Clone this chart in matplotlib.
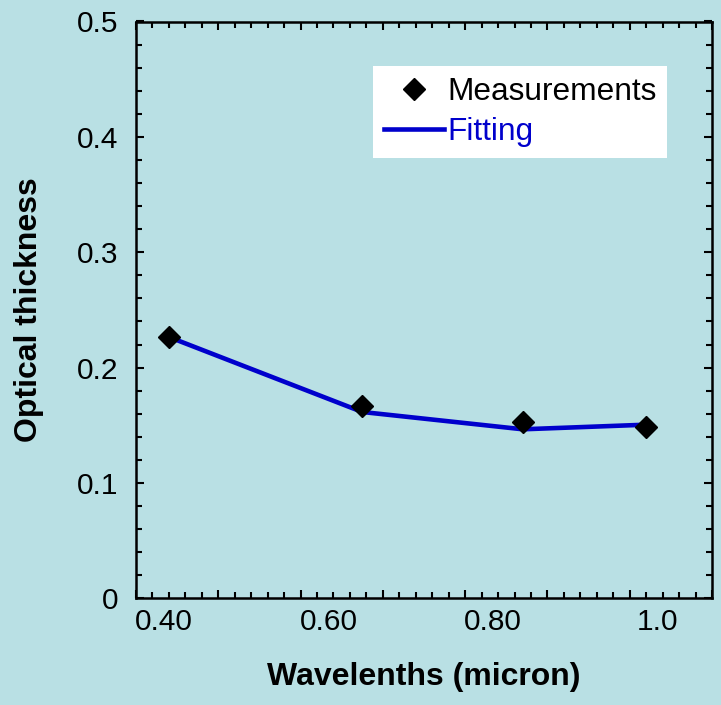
import matplotlib
matplotlib.use("Agg")
import matplotlib.pyplot as plt
import matplotlib.transforms as mtransforms
from matplotlib.ticker import MultipleLocator, FuncFormatter
from matplotlib.lines import Line2D

# aerosol optical thickness vs wavelength
wavelengths = [0.44, 0.675, 0.87, 1.02]
measured = [0.2265, 0.1667, 0.1528, 0.1482]
fitted = [0.2265, 0.1615, 0.1465, 0.1505]

bg = "#b9e0e4"
blue = "#0000cc"
fs_tick = 21.5
fs_label = 23
fs_leg = 22.8

plt.rcParams['font.family'] = ['Liberation Sans', 'DejaVu Sans']

fig = plt.figure(figsize=(7.21, 7.05), dpi=100, facecolor=bg)
ax = fig.add_axes([136/721, 1 - 598.3/705, 576/721, 576.8/705])
ax.set_facecolor(bg)

ax.plot(wavelengths, fitted, color=blue, lw=3.3, zorder=2)
ax.plot(wavelengths, measured, linestyle='none', marker='D', markersize=11,
        color='black', zorder=3)

ax.set_xlim(0.4, 1.1)
ax.set_ylim(0, 0.5)

ax.xaxis.set_major_locator(MultipleLocator(0.1))
ax.xaxis.set_minor_locator(MultipleLocator(0.02))
ax.yaxis.set_major_locator(MultipleLocator(0.1))
ax.yaxis.set_minor_locator(MultipleLocator(0.02))

xlabels = {4: '0.40', 6: '0.60', 8: '0.80', 10: '1.0'}
ax.xaxis.set_major_formatter(FuncFormatter(lambda v, p: xlabels.get(int(round(v * 10)), '')))
ax.yaxis.set_major_formatter(FuncFormatter(lambda v, p: '0' if abs(v) < 1e-9 else f'{v:.1f}'))

for s in ax.spines.values():
    s.set_linewidth(1.8)
ax.tick_params(which='both', direction='in', top=True, right=True, width=1.5,
               labelsize=fs_tick)
ax.tick_params(which='major', length=6)
ax.tick_params(which='minor', length=4)
ax.tick_params(axis='y', pad=13)
ax.tick_params(axis='x', pad=7)

# labels on the x axis sit a little right of their ticks
offset = mtransforms.ScaledTranslation(28/100, 0, fig.dpi_scale_trans)
for lbl in ax.xaxis.get_majorticklabels():
    lbl.set_transform(lbl.get_transform() + offset)

ax.set_xlabel("Wavelenths (micron)", fontsize=fs_label, fontweight='bold')
ax.set_ylabel("Optical thickness", fontsize=fs_label, fontweight='bold')
ax.xaxis.set_label_coords(0.5, -0.110)
ax.yaxis.set_label_coords(-0.160, 0.5)

handles = [
    Line2D([], [], linestyle='none', marker='D', markersize=11, color='black'),
    Line2D([], [], color=blue, lw=3.3),
]
leg = ax.legend(handles, ["Measurements", "Fitting"], loc='upper right',
                bbox_to_anchor=(0.922, 0.922), borderaxespad=0, fontsize=fs_leg,
                frameon=True, fancybox=False, framealpha=1, edgecolor='white',
                handlelength=1.9, handletextpad=0.1, labelspacing=0.3,
                borderpad=0.34)
leg.get_frame().set_facecolor('white')
leg.get_frame().set_linewidth(0)
leg.get_texts()[1].set_color(blue)

fig.savefig("out.png", dpi=100, facecolor=bg)
